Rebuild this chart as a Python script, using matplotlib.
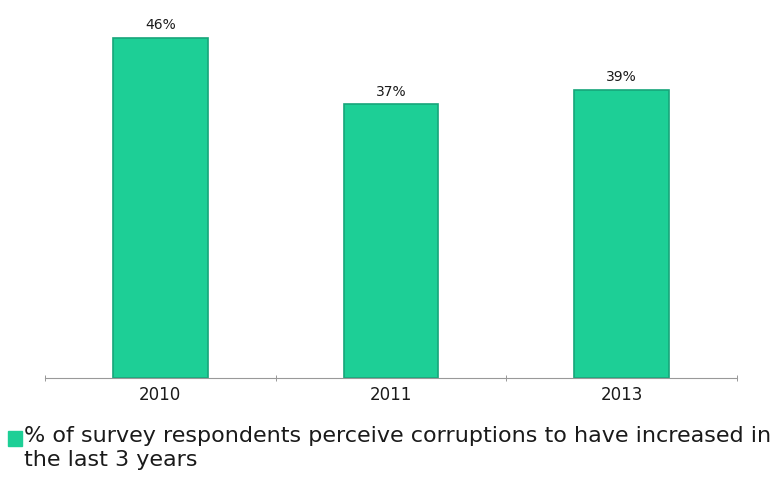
import matplotlib.pyplot as plt
import numpy as np

years = ['2010', '2011', '2013']
values = [46, 37, 39]
legend_text = '% of survey respondents perceive corruptions to have increased in\nthe last 3 years'

plt.rcParams['font.family'] = ['DejaVu Sans']

fig = plt.figure(figsize=(7.83, 4.8), dpi=100)
ax = fig.add_axes([0.0575, 0.2125, 0.8835, 0.77])

x = np.arange(len(years))
bars = ax.bar(x, values, width=0.41, color='#1dcf96', edgecolor='#17a57a', linewidth=1.2)
for b, v in zip(bars, values):
    ax.text(b.get_x() + b.get_width() / 2, v + 0.8, f'{v}%', ha='center', va='bottom',
            fontsize=10, color='#1a1a1a')

ax.set_xlim(-0.5, len(years) - 0.5)
ax.set_ylim(0, 50)
ax.set_xticks(x)
ax.set_xticklabels(years, fontsize=12, color='#1a1a1a')
ax.tick_params(axis='x', which='major', length=0, pad=6)
ax.set_xticks(np.arange(-0.5, len(years), 1.0), minor=True)
ax.tick_params(axis='x', which='minor', length=5, color='#888888', direction='inout')
ax.set_yticks([])
for s in ['top', 'right', 'left']:
    ax.spines[s].set_visible(False)
ax.spines['bottom'].set_color('#999999')

# legend
fig.patches.append(plt.Rectangle((8 / 783, 1 - 446 / 480), 14 / 783, 15 / 480,
                                 transform=fig.transFigure, color='#1dcf96'))
fig.text(24 / 783, 1 - 426 / 480, legend_text, fontsize=16, va='top', ha='left',
         color='#1a1a1a', linespacing=1.25)

fig.savefig('out.png', dpi=100)
